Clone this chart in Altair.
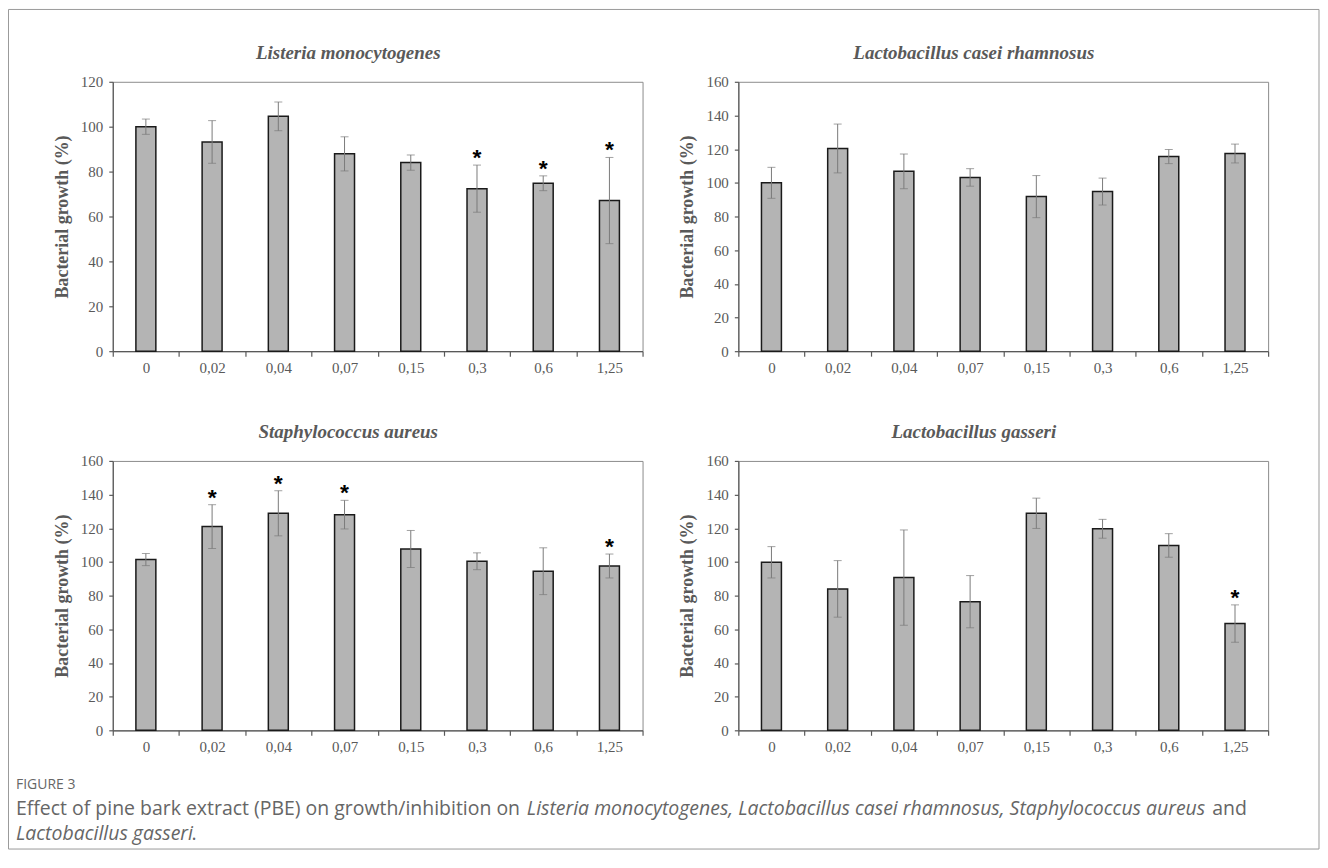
import altair as alt
import pandas as pd

conc = ["0", "0,02", "0,04", "0,07", "0,15", "0,3", "0,6", "1,25"]

listeria_mean = [100.0, 93.2, 104.6, 87.9, 84.0, 72.4, 74.8, 67.1]
listeria_err = [3.4, 9.5, 6.4, 7.6, 3.4, 10.5, 3.3, 19.2]
listeria_sig = [0, 0, 0, 0, 0, 1, 1, 1]

casei_mean = [100.0, 120.4, 106.8, 103.2, 91.8, 94.8, 115.6, 117.4]
casei_err = [9.2, 14.5, 10.3, 5.2, 12.5, 8.0, 4.2, 5.6]
casei_sig = [0, 0, 0, 0, 0, 0, 0, 0]

aureus_mean = [101.4, 121.0, 128.9, 128.1, 107.7, 100.4, 94.5, 97.6]
aureus_err = [3.6, 13.0, 13.4, 8.5, 11.0, 5.0, 13.9, 7.1]
aureus_sig = [0, 1, 1, 1, 0, 0, 0, 1]

gasseri_mean = [99.8, 84.0, 90.7, 76.4, 128.9, 119.7, 109.8, 63.4]
gasseri_err = [9.3, 16.8, 28.3, 15.5, 9.0, 5.6, 7.0, 11.1]
gasseri_sig = [0, 0, 0, 0, 0, 0, 0, 1]

YTITLE = "Bacterial growth (%)"
GRAY = "#595959"
SERIF = "Liberation Serif"
PW, PH = 531, 270


def panel(title, means, errs, sig, ymax):
    df = pd.DataFrame({"conc": conc, "mean": means, "err": errs, "sig": sig})
    df["lo"] = df["mean"] - df["err"]
    df["hi"] = df["mean"] + df["err"]
    x = alt.X(
        "conc:N", sort=conc, title=None,
        scale=alt.Scale(paddingInner=0, paddingOuter=0),
        axis=alt.Axis(labelAngle=0, tickBand="extent", tickSize=5, labelPadding=4),
    )
    yscale = alt.Scale(domain=[0, ymax], nice=False)
    yaxis = alt.Axis(values=list(range(0, ymax + 1, 20)), tickSize=4, labelPadding=6,
                     titlePadding=9)

    def Y(field):
        return alt.Y(field, scale=yscale, axis=yaxis, title=YTITLE)

    base = alt.Chart(df)
    bars = base.mark_bar(size=20, fill="#b4b4b4", stroke="#1a1a1a", strokeWidth=1.5).encode(
        x=x, y=Y("mean:Q")
    )
    rule = base.mark_rule(color="#7a7a7a", strokeWidth=1).encode(
        x=x, y=Y("lo:Q"), y2="hi:Q"
    )
    lo_t = base.mark_tick(color="#7a7a7a", size=8, thickness=1).encode(x=x, y=Y("lo:Q"))
    hi_t = base.mark_tick(color="#7a7a7a", size=8, thickness=1).encode(x=x, y=Y("hi:Q"))
    stars = base.transform_filter("datum.sig == 1").mark_text(
        text="*", font="Liberation Sans", fontSize=23, fontWeight="bold",
        color="black", baseline="alphabetic", dy=0
    ).encode(x=x, y=Y("hi:Q"))
    return alt.layer(bars, rule, lo_t, hi_t, stars).properties(
        width=PW, height=PH,
        title=alt.TitleParams(title),
    )


p1 = panel("Listeria monocytogenes", listeria_mean, listeria_err, listeria_sig, 120)
p2 = panel("Lactobacillus casei rhamnosus", casei_mean, casei_err, casei_sig, 160)
p3 = panel("Staphylococcus aureus", aureus_mean, aureus_err, aureus_sig, 160)
p4 = panel("Lactobacillus gasseri", gasseri_mean, gasseri_err, gasseri_sig, 160)

# caption / frame (positions relative to caption view origin)
one = pd.DataFrame({"k": [0]})
cap_font = "Open Sans"
cap_col = "#666666"
frame = alt.Chart(one).mark_rect(fillOpacity=0, stroke="#9a9a9a", strokeWidth=1).encode(
    x=alt.value(-104.5), x2=alt.value(1209), y=alt.value(-832.5), y2=alt.value(9)
)


def ctext(txt, xpos, ypos, size=19.5, italic=False):
    return alt.Chart(one).mark_text(
        text=txt, font=cap_font, fontSize=size, color=cap_col, align="left",
        baseline="middle", fontStyle="italic" if italic else "normal"
    ).encode(x=alt.value(xpos), y=alt.value(ypos))


caption = alt.layer(
    frame,
    ctext("FIGURE 3", -97, -55, size=14),
    ctext("Effect of pine bark extract (PBE) on growth/inhibition on", -97, -31),
    ctext("Listeria monocytogenes, Lactobacillus casei rhamnosus, Staphylococcus aureus", 415, -31, italic=True),
    ctext("and", 1102, -31),
    ctext("Lactobacillus gasseri", -97, -6, italic=True),
    ctext(".", 79, -6),
).properties(width=1, height=1, view=alt.ViewBackground(strokeOpacity=0))

chart = alt.concat(
    p1, p2, p3, p4, caption, columns=2, bounds="flush",
    spacing=alt.RowColnumber(row=110, column=96),
).properties(
    padding=0
).configure_axis(
    grid=False,
    labelFont=SERIF, labelFontSize=15, labelColor=GRAY,
    titleFont=SERIF, titleFontSize=18, titleFontWeight="bold", titleColor=GRAY,
    domainColor=GRAY, tickColor=GRAY, domainWidth=1.2, tickWidth=1.2,
).configure_view(
    stroke="#8c8c8c", strokeWidth=1
).configure_title(
    font=SERIF, fontSize=19, fontStyle="italic", fontWeight="bold", color=GRAY,
    anchor="middle", frame="bounds", offset=12
)

chart.save("out.html", embed_options={"renderer": "svg", "actions": False})
